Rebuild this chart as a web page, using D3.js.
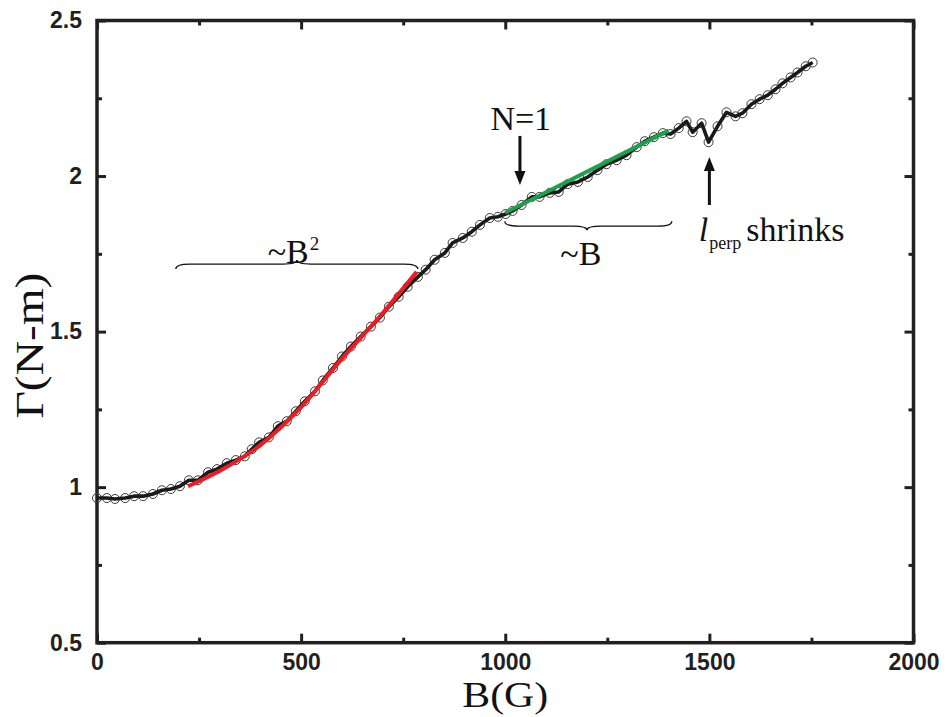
<!DOCTYPE html>
<html><head><meta charset="utf-8">
<script src="https://cdn.jsdelivr.net/npm/d3@7"></script>
<style>body{margin:0;background:#fff}</style>
</head><body>
<svg id="chart" width="947" height="717"></svg>
<script>
// Measured data: magnetic field B (G) and torque Γ (N-m)
const fieldB = [0,24,44,69,91,113,137,159,181,203,225,247,272,294,318,340,362,379,397,421,443,465,487,509,534,553,578,600,622,646,671,693,715,739,761,786,805,827,852,871,896,918,938,962,982,1001,1018,1040,1065,1084,1109,1131,1153,1178,1202,1226,1248,1273,1297,1322,1342,1364,1386,1405,1425,1444,1459,1481,1498,1520,1542,1564,1581,1603,1623,1643,1662,1679,1699,1716,1736,1753];
const torque = [0.965,0.965,0.962,0.965,0.971,0.971,0.978,0.990,0.994,1.003,1.022,1.022,1.048,1.058,1.077,1.087,1.099,1.122,1.144,1.160,1.196,1.212,1.244,1.276,1.308,1.343,1.383,1.420,1.452,1.484,1.516,1.545,1.580,1.612,1.644,1.676,1.699,1.731,1.753,1.785,1.801,1.821,1.843,1.865,1.869,1.878,1.888,1.907,1.933,1.933,1.946,1.949,1.974,1.981,1.997,2.019,2.038,2.051,2.067,2.093,2.112,2.125,2.138,2.135,2.154,2.176,2.141,2.170,2.109,2.160,2.205,2.192,2.202,2.231,2.247,2.260,2.279,2.298,2.317,2.333,2.353,2.365];
// ~B^2 fit (red)
const fitSqB = [223,300,400,500,600,700,783];
const fitSqG = [1.003,1.052,1.135,1.257,1.413,1.560,1.692];
// ~B fit (green)
const fitLinB = [1000,1400];
const fitLinG = [1.882,2.146];
// ticks
const xMajor = [0,500,1000,1500,2000];
const xMinor = [250,750,1250,1750];
const yMajor = [0.5,1,1.5,2,2.5];
const yMinor = [0.75,1.25,1.75,2.25];

const svg = d3.select("#chart");
const L = 97, R = 913.5, T = 20.5, B = 642.7;
const x = d3.scaleLinear().domain([0,2000]).range([L,R]);
const y = d3.scaleLinear().domain([0.5,2.5]).range([B,T]);
const ink = "#231f20";

function styleAxis(g, sw){
  g.select(".domain").remove();
  g.selectAll(".tick line").attr("stroke", ink).attr("stroke-width", sw);
  g.selectAll(".tick text").attr("fill", ink)
    .style("font-family","'Liberation Sans', Arial, sans-serif")
    .style("font-size","23px").style("font-weight","bold");
}
const fmt = d3.format("");
// bottom
svg.append("g").attr("transform",`translate(0,${B})`)
  .call(d3.axisBottom(x).tickValues(xMajor).tickSizeInner(-9).tickSizeOuter(0).tickPadding(11).tickFormat(fmt))
  .call(g=>styleAxis(g,3));
svg.append("g").attr("transform",`translate(0,${B})`)
  .call(d3.axisBottom(x).tickValues(xMinor).tickSizeInner(-5).tickSizeOuter(0).tickFormat(""))
  .call(g=>styleAxis(g,3));
// top
svg.append("g").attr("transform",`translate(0,${T})`)
  .call(d3.axisTop(x).tickValues(xMajor).tickSizeInner(-9).tickSizeOuter(0).tickFormat(""))
  .call(g=>styleAxis(g,3));
svg.append("g").attr("transform",`translate(0,${T})`)
  .call(d3.axisTop(x).tickValues(xMinor).tickSizeInner(-5).tickSizeOuter(0).tickFormat(""))
  .call(g=>styleAxis(g,3));
// left
svg.append("g").attr("transform",`translate(${L},0)`)
  .call(d3.axisLeft(y).tickValues(yMajor).tickSizeInner(-9).tickSizeOuter(0).tickPadding(15).tickFormat(fmt))
  .call(g=>styleAxis(g,3));
svg.append("g").attr("transform",`translate(${L},0)`)
  .call(d3.axisLeft(y).tickValues(yMinor).tickSizeInner(-5).tickSizeOuter(0).tickFormat(""))
  .call(g=>styleAxis(g,3));
// right
svg.append("g").attr("transform",`translate(${R},0)`)
  .call(d3.axisRight(y).tickValues(yMajor).tickSizeInner(-9).tickSizeOuter(0).tickFormat(""))
  .call(g=>styleAxis(g,3));
svg.append("g").attr("transform",`translate(${R},0)`)
  .call(d3.axisRight(y).tickValues(yMinor).tickSizeInner(-5).tickSizeOuter(0).tickFormat(""))
  .call(g=>styleAxis(g,3));
// frame
svg.append("rect").attr("x",L).attr("y",T).attr("width",R-L).attr("height",B-T)
  .attr("fill","none").attr("stroke",ink).attr("stroke-width",3.5);

// data
const pts = fieldB.map((b,i)=>[b, torque[i]]);
svg.append("g").selectAll("circle").data(pts).join("circle")
  .attr("cx",d=>x(d[0])).attr("cy",d=>y(d[1])).attr("r",4.5)
  .attr("fill","none").attr("stroke","#3a3a3a").attr("stroke-width",1);
const line = d3.line().x(d=>x(d[0])).y(d=>y(d[1]));
svg.append("path").datum(pts).attr("d",line)
  .attr("fill","none").attr("stroke","#1a1a1a").attr("stroke-width",3.6).attr("stroke-linejoin","round");

const smooth = d3.line().x(d=>x(d[0])).y(d=>y(d[1])).curve(d3.curveMonotoneX);
svg.append("path").datum(fitSqB.map((b,i)=>[b,fitSqG[i]])).attr("d",smooth)
  .attr("fill","none").attr("stroke","#ec1c24").attr("stroke-width",4);
svg.append("path").datum(fitLinB.map((b,i)=>[b,fitLinG[i]])).attr("d",line)
  .attr("fill","none").attr("stroke","#1fa04c").attr("stroke-width",4);

// braces
function brace(b1, b2, bc, g, s){
  const X1=x(b1), X2=x(b2), C=x(bc), Y=y(g);
  const d = `M${X1},${Y+5*s} C${X1},${Y+1.5*s} ${X1+4},${Y} ${X1+14},${Y} L${C-14},${Y} C${C-4},${Y} ${C},${Y-1*s} ${C},${Y-4*s} C${C},${Y-1*s} ${C+4},${Y} ${C+14},${Y} L${X2-14},${Y} C${X2-4},${Y} ${X2},${Y+1.5*s} ${X2},${Y+5*s}`;
  svg.append("path").attr("d",d).attr("fill","none").attr("stroke","#111").attr("stroke-width",1.3);
}
brace(193, 786, 490, 1.717, 1);
brace(999, 1408, 1200, 1.839, -1);

// arrows
function arrow(b, g1, g2){
  const X=x(b), Y1=y(g1), Y2=y(g2), dir = Y2>Y1?1:-1;
  svg.append("line").attr("x1",X).attr("x2",X).attr("y1",Y1).attr("y2",Y2-dir*12)
    .attr("stroke","#111").attr("stroke-width",3);
  svg.append("path").attr("d",`M${X-5.5},${Y2-dir*14} L${X+5.5},${Y2-dir*14} L${X},${Y2} Z`).attr("fill","#111");
}
arrow(1036, 2.129, 1.971);
arrow(1500, 1.907, 2.061);

// annotation text
const serif = "'Liberation Serif','Times New Roman',serif";
function txt(b,g,anchor){
  return svg.append("text").attr("x",x(b)).attr("y",y(g)).attr("text-anchor",anchor)
    .style("font-family",serif).style("font-size","34px").attr("fill","#111");
}
txt(1038, 2.148, "middle").text("N=1");
txt(1185, 1.714, "middle").text("~B");
const t2 = txt(418, 1.720, "start");
t2.append("tspan").text("~B");
t2.append("tspan").attr("dy",-13).attr("dx",1).style("font-size","19px").text("2");
const t3 = txt(1474, 1.791, "start");
t3.append("tspan").style("font-style","italic").text("l");
t3.append("tspan").attr("dy",8).attr("dx",1).style("font-size","18px").text("perp");
t3.append("tspan").attr("dy",-8).attr("dx",5).text("shrinks");

// axis labels
svg.append("text").attr("x",x(1000)).attr("y",707).attr("text-anchor","middle")
  .attr("textLength",86).attr("lengthAdjust","spacingAndGlyphs")
  .style("font-family",serif).style("font-size","36px").attr("fill","#111").text("B(G)");
svg.append("text").attr("transform",`translate(43,${(T+B)/2+14}) rotate(-90)`).attr("text-anchor","middle")
  .attr("textLength",146).attr("lengthAdjust","spacingAndGlyphs")
  .style("font-family",serif).style("font-size","39px").attr("fill","#111").text("Γ(N-m)");
</script>
</body></html>
